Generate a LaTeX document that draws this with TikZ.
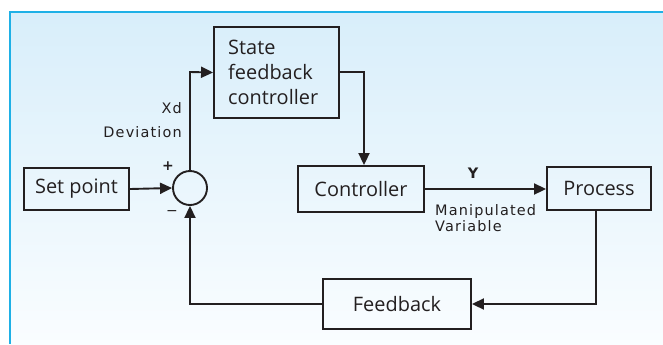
\documentclass[tikz,border=0pt]{standalone}
\usepackage{fontspec}
\setmainfont{Open Sans}
\newfontfamily\labelfont[LetterSpace=8]{DejaVu Sans}
\newfontfamily\signfont{DejaVu Sans}
\usetikzlibrary{arrows.meta,calc}
\definecolor{frameblue}{HTML}{1EB0E6}
\definecolor{bgtop}{HTML}{D8EEFA}
\definecolor{bgbottom}{HTML}{FAFDFF}
\definecolor{ink}{HTML}{231F20}
\tikzset{
  blockbox/.style={draw=ink, line width=1.9pt, rectangle, fill=none, inner sep=0pt,
    font=\fontsize{20}{24}\selectfont, text=ink},
  sumnode/.style={draw=ink, line width=1.9pt, circle, minimum size=34bp, inner sep=0pt},
  conn/.style={draw=ink, line width=1.9pt},
  arr/.style={conn, -{Triangle[length=12bp,width=11bp]}},
  smalllabel/.style={font=\labelfont\fontsize{14.5}{16}\selectfont, text=ink, inner sep=0pt},
}
\begin{document}
\begin{tikzpicture}[x=1bp, y=-1bp]
  \useasboundingbox (0,0) rectangle (663,344);
  % background panel with its frame
  \shade[top color=bgtop, bottom color=bgbottom] (10,12) rectangle (663,344);
  \draw[frameblue, line width=1.6pt] (10,344) -- (10,12) -- (663,12);

  % blocks
  \node[blockbox, minimum width=105bp, minimum height=42bp] (setp) at (76.5,189) {Set point};
  \node[sumnode] (sum) at (190,188) {};
  \node[blockbox, minimum width=125bp, minimum height=91bp] (sfc) at (276.5,72.5) {};
  \node[anchor=west, align=left, inner sep=0pt, text=ink,
        font=\fontsize{20}{25}\selectfont] (sfctext) at (228,72.5)
        {State\\feedback\\controller};
  \node[blockbox, minimum width=126bp, minimum height=46bp] (ctrl) at (361,189) {Controller};
  \node[blockbox, minimum width=104bp, minimum height=43bp] (proc) at (599,188.5) {Process};
  \node[blockbox, minimum width=148bp, minimum height=50bp] (fb) at (397,304) {Feedback};

  % corner points of the routed connectors
  \coordinate (c1) at (190,72);
  \coordinate (c2) at (364,72);
  \coordinate (c3) at (596,304);
  \coordinate (c4) at (190,304);

  % connectors
  \draw[arr] (setp.east) -- (sum.west);
  \draw[arr] (sum.north) -- (c1) -- (sfc.west);
  \draw[arr] (sfc.east |- c2) -- (c2) -- (c2 |- ctrl.north);
  \draw[arr] (ctrl.east) -- (ctrl.east -| proc.west);
  \draw[arr] (proc.south -| c3) -- (c3) -- (fb.east);
  \draw[arr] (fb.west) -- (c4) -- (sum.south);

  % signal labels
  \node[font=\signfont\bfseries\fontsize{14}{14}\selectfont, text=ink, inner sep=0pt] (plus) at (168,166) {+};
  \node[font=\signfont\fontsize{14}{14}\selectfont, text=ink, inner sep=0pt] (minus) at (172,213) {−};
  \node[smalllabel, anchor=east] (xd) at (182,108) {Xd};
  \node[smalllabel, anchor=east] (dev) at (182,132) {Deviation};
  \node[smalllabel, font=\labelfont\bfseries\fontsize{14.5}{16}\selectfont] (y) at (473,173) {Y};
  \node[smalllabel, anchor=north west, align=left] (mv) at (435,204) {Manipulated\\Variable};
\end{tikzpicture}
\end{document}
